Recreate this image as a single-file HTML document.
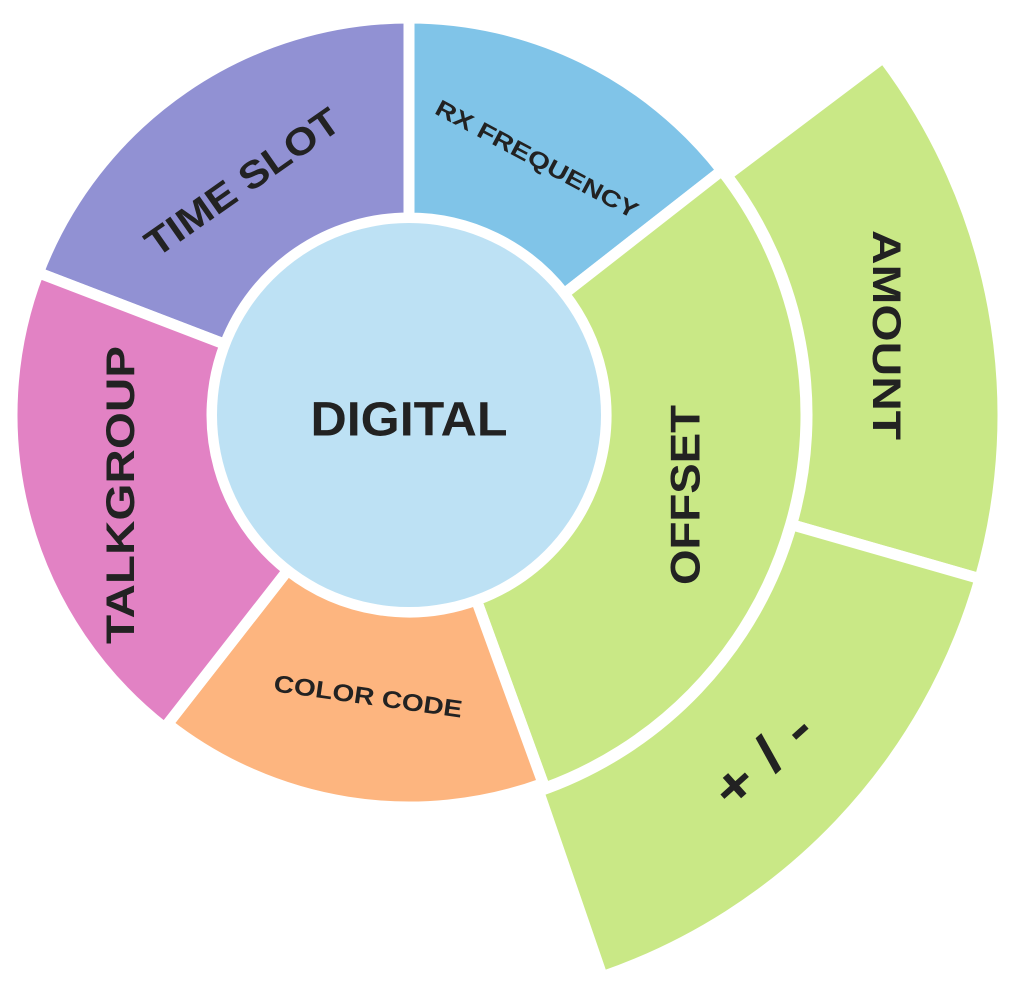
<!DOCTYPE html>
<html><head><meta charset="utf-8"><style>
html,body{margin:0;padding:0;background:#fff;width:1024px;height:985px;overflow:hidden}
svg{display:block}
text{font-family:"Liberation Sans",Arial,sans-serif;font-weight:bold;fill:#222;text-anchor:middle;dominant-baseline:central}
</style></head><body>
<svg id="s" width="1024" height="985" viewBox="0 0 1024 985">
<g id="g"></g>
<circle cx="409" cy="415" r="192" fill="#bde1f4"/>
<text x="409" y="420" font-size="48" textLength="197" lengthAdjust="spacingAndGlyphs">DIGITAL</text>
<text transform="translate(243,183) rotate(-35)" font-size="38" textLength="228" lengthAdjust="spacingAndGlyphs">TIME SLOT</text>
<text transform="translate(537,159) rotate(28)" font-size="23" textLength="226" lengthAdjust="spacingAndGlyphs">RX FREQUENCY</text>
<text transform="translate(685,495) rotate(-90)" font-size="42" textLength="180" lengthAdjust="spacingAndGlyphs">OFFSET</text>
<text transform="translate(886,335) rotate(90)" font-size="40" textLength="210" lengthAdjust="spacingAndGlyphs">AMOUNT</text>
<text transform="translate(763,760) rotate(-42)" font-size="54" textLength="115" lengthAdjust="spacingAndGlyphs">+ / -</text>
<text transform="translate(368,697) rotate(8)" font-size="24" textLength="190" lengthAdjust="spacingAndGlyphs">COLOR CODE</text>
<text transform="translate(121,495) rotate(-90)" font-size="40" textLength="298" lengthAdjust="spacingAndGlyphs">TALKGROUP</text>
</svg>
<script>
var cx=409,cy=415;
function pt(r,a){a=a*Math.PI/180;return [cx+r*Math.sin(a),cy-r*Math.cos(a)];}
function sec(r1,r2,a1,a2,c){
 var p1=pt(r2,a1),p2=pt(r2,a2),p3=pt(r1,a2),p4=pt(r1,a1);var l=(a2-a1)>180?1:0;
 var d="M"+p1+"A"+r2+","+r2+" 0 "+l+" 1 "+p2+"L"+p3+"A"+r1+","+r1+" 0 "+l+" 0 "+p4+"Z";
 return '<path d="'+d+'" fill="'+c+'" stroke="#fff" stroke-width="11" stroke-linejoin="round"/>';}
var h="";
h+=sec(197,397,-69,0,"#9191d3");
h+=sec(197,397,0,52,"#80c4e8");
h+=sec(197,397,52,160,"#c9e886");
h+=sec(197,392,160,218,"#fdb57f");
h+=sec(197,397,218,291,"#e282c4");
h+=sec(398,594,53,106,"#c9e886");
h+=sec(398,594,106,161,"#c9e886");
document.getElementById("g").innerHTML=h;
</script>
</body></html>
